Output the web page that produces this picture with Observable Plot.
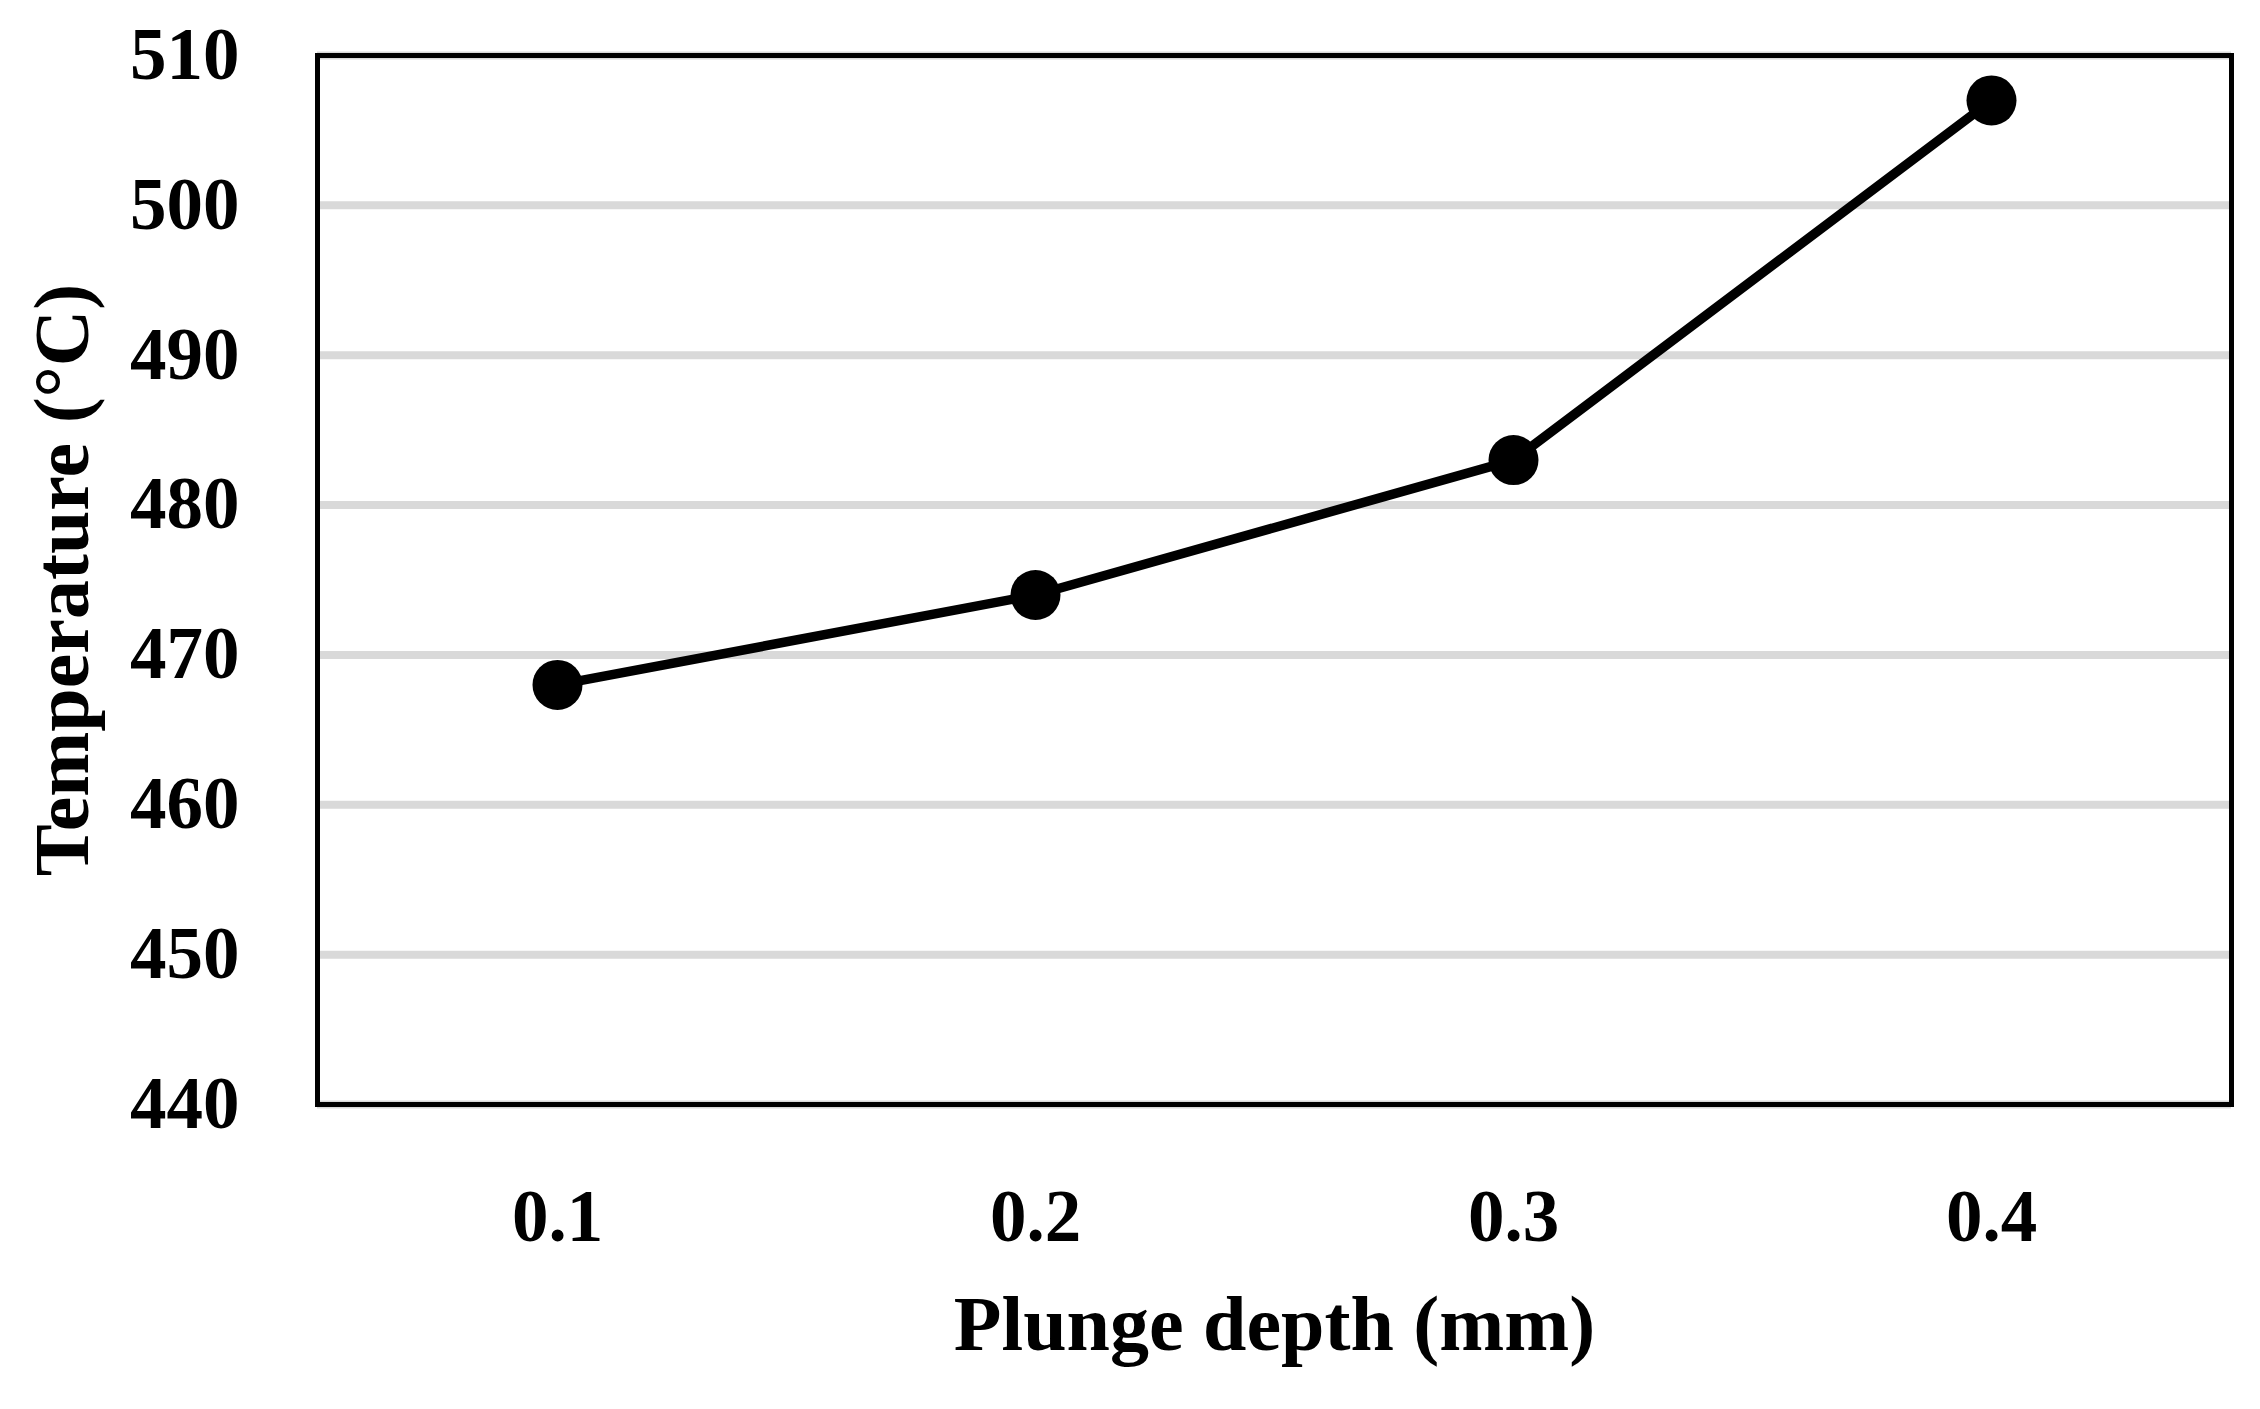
<!DOCTYPE html>
<html>
<head>
<meta charset="utf-8">
<script src="https://cdn.jsdelivr.net/npm/d3@7"></script>
<script src="https://cdn.jsdelivr.net/npm/@observablehq/plot@0.6"></script>
<style>
  html, body { margin: 0; padding: 0; background: #fff; }
  #chart svg { display: block; }
</style>
</head>
<body>
<div id="chart"></div>
<script>
const depths = ["0.1", "0.2", "0.3", "0.4"];
const temperatures = [468, 474, 483, 507];
const yTicks = [440, 450, 460, 470, 480, 490, 500, 510];
const xTitle = "Plunge depth (mm)";
const yTitle = "Temperature (°C)";

const data = depths.map((d, i) => ({depth: d, temp: temperatures[i]}));

const chart = Plot.plot({
  width: 2260,
  height: 1409,
  marginLeft: 317,
  marginRight: 29,
  marginTop: 55,
  marginBottom: 305,
  style: {
    fontFamily: "'Liberation Serif', 'DejaVu Serif', serif",
    fontWeight: "bold",
    fontSize: "73px",
    color: "#000",
    background: "#fff"
  },
  x: {type: "point", domain: depths, padding: 0.5},
  y: {domain: [440, 510]},
  marks: [
    Plot.gridY(yTicks, {stroke: "#d9d9d9", strokeWidth: 8, strokeOpacity: 1}),
    Plot.frame({stroke: "#000", strokeWidth: 5}),
    Plot.axisY(yTicks, {
      tickSize: 0, tickPadding: 78, fontSize: 73, fontWeight: "bold",
      label: yTitle, labelAnchor: "center", labelOffset: 285, labelArrow: "none"
    }),
    Plot.axisX(depths, {
      tickSize: 0, tickPadding: 85, fontSize: 73, fontWeight: "bold",
      label: xTitle, labelAnchor: "center", labelOffset: 245, labelArrow: "none"
    }),
    Plot.line(data, {x: "depth", y: "temp", stroke: "#000", strokeWidth: 9.5}),
    Plot.dot(data, {x: "depth", y: "temp", r: 25, fill: "#000", stroke: "none"})
  ]
});
chart.querySelectorAll("[aria-label='x-axis label'] text, [aria-label='y-axis label'] text").forEach(t => t.style.fontSize = "78px");
document.getElementById("chart").appendChild(chart);
</script>
</body>
</html>
